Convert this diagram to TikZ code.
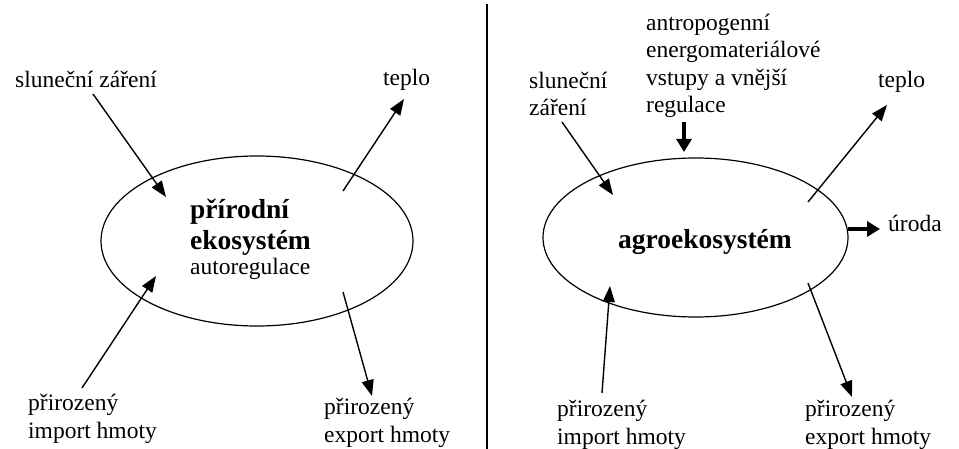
\documentclass[tikz,border=0pt]{standalone}
\usepackage{fontspec}
\setmainfont{Liberation Serif}
\usetikzlibrary{arrows.meta,shapes.geometric}
\begin{document}
\begin{tikzpicture}[x=1pt,y=-1pt,
  lbl/.style={inner sep=0pt,anchor=west,align=left,font=\fontsize{23.5}{27.5}\selectfont},
  bold/.style={inner sep=0pt,anchor=west,font=\bfseries\fontsize{27.5}{31}\selectfont},
  eco/.style={draw,ellipse,line width=1.2pt,inner sep=0pt},
  arr/.style={line width=1.4pt,-{Triangle[length=16pt,width=12pt]}},
  thick arr/.style={line width=3.6pt,-{Triangle[length=13pt,width=15pt]}}]
\useasboundingbox (0,0) rectangle (959,449);
\fill[white] (0,0) rectangle (959,449);
% divider
\draw[line width=1.6pt] (487,4) coordinate (dtop) -- (487,449) coordinate (dbot);

% ---------- left: natural ecosystem ----------
\node[eco,minimum width=312pt,minimum height=170pt] (e1) at (257,241) {};
\node[bold] (t1a) at (190,212) {přírodní};
\node[bold] (t1b) at (190,243) {ekosystém};
\node[lbl] (t1c) at (190,269) {autoregulace};
\node[lbl] (sun1) at (15,79) {sluneční záření};
\node[lbl] (heat1) at (383,80) {teplo};
\node[lbl] (imp1) at (28,419) {přirozený\\import hmoty};
\node[lbl] (exp1) at (324,423) {přirozený\\export hmoty};
\coordinate (s1a) at (93,94);   \coordinate (s1b) at (166,197);
\coordinate (h1a) at (343,191); \coordinate (h1b) at (404,99);
\coordinate (i1a) at (82,388);  \coordinate (i1b) at (156,276);
\coordinate (x1a) at (343,292); \coordinate (x1b) at (372,396);
\draw[arr] (s1a) -- (s1b);
\draw[arr] (h1a) -- (h1b);
\draw[arr] (i1a) -- (i1b);
\draw[arr] (x1a) -- (x1b);

% ---------- right: agroecosystem ----------
\node[eco,minimum width=305pt,minimum height=159pt] (e2) at (695.5,237.5) {};
\node[bold,anchor=center] (t2) at (705,242) {agroekosystém};
\node[lbl] (anth) at (646,66) {antropogenní\\energomateriálové\\vstupy a vnější\\regulace};
\node[lbl] (sun2) at (529,94) {sluneční\\záření};
\node[lbl] (heat2) at (878,82) {teplo};
\node[lbl] (crop) at (888,223) {úroda};
\node[lbl] (imp2) at (557,425) {přirozený\\import hmoty};
\node[lbl] (exp2) at (805,425) {přirozený\\export hmoty};
\coordinate (a2a) at (684,122);  \coordinate (a2b) at (684,152);
\coordinate (s2a) at (562,122);  \coordinate (s2b) at (613,195);
\coordinate (h2a) at (808,202);  \coordinate (h2b) at (887,105);
\coordinate (c2a) at (848,229);  \coordinate (c2b) at (880,229);
\coordinate (i2a) at (602,393);  \coordinate (i2b) at (610,286);
\coordinate (x2a) at (808,283);  \coordinate (x2b) at (852,397);
\draw[thick arr] (a2a) -- (a2b);
\draw[thick arr] (c2a) -- (c2b);
\draw[arr] (s2a) -- (s2b);
\draw[arr] (h2a) -- (h2b);
\draw[arr] (i2a) -- (i2b);
\draw[arr] (x2a) -- (x2b);
\end{tikzpicture}
\end{document}
